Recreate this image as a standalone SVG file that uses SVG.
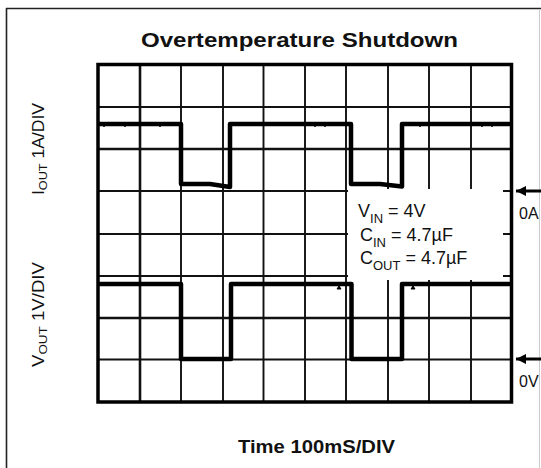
<svg xmlns="http://www.w3.org/2000/svg" width="541" height="468" viewBox="0 0 541 468">
<style>
.t{font-family:"Liberation Sans",Arial,sans-serif;fill:#111}
.g{stroke:#111;stroke-width:1.9;fill:none}
.gt{stroke:#111;stroke-width:2.6;fill:none}
.tr{stroke:#000;stroke-width:4.5;fill:none;stroke-linejoin:round}
</style>
<defs>
<marker id="ah" markerUnits="userSpaceOnUse" viewBox="0 0 10 10" refX="10" refY="5" markerWidth="11" markerHeight="10" orient="auto">
<path d="M0,0 L10,5 L0,10 z" fill="#000"/>
</marker>
</defs>
<rect width="541" height="468" fill="#fff"/>
<g id="frame">
<line x1="6.5" y1="8" x2="6.5" y2="468" stroke="#222" stroke-width="1.6"/>
<line x1="6" y1="8.5" x2="541" y2="8.5" stroke="#222" stroke-width="1.6"/>
<line x1="539.5" y1="9" x2="539.5" y2="468" stroke="#ccc" stroke-width="1"/>
</g>
<text id="title" class="t" x="141" y="47" font-size="21" font-weight="bold" textLength="317" lengthAdjust="spacingAndGlyphs">Overtemperature Shutdown</text>
<g id="grid">
<path class="g" d="M181,64.5V402 M223,64.5V402 M263.5,64.5V402 M305,64.5V402 M346,64.5V402 M388,64.5V402 M429,64.5V402 M471,64.5V402"/>
<path class="gt" d="M140,64.5V402"/>
<path class="g" d="M98,107H511.5 M98,191H511.5 M98,234H511.5 M98,276H511.5 M98,359.5H511.5"/>
<path class="gt" d="M98,149H511.5 M98,318H511.5"/>
<rect x="348" y="189" width="155" height="91" fill="#fff"/>
<path class="g" d="M503,191H511 M503,234H511 M503,276H511"/>
<rect x="98" y="64.5" width="413.5" height="337.5" fill="none" stroke="#000" stroke-width="3.5"/>
</g>
<g id="iout-trace">
<path class="tr" d="M99,124 H181 V184 H210 L230,187 V124 H351 V184 H380 L402,186.5 V124 H510"/>
<path d="M104,125v2 M125,125v2 M160,125v2 M315,125v2 M325,125v2 M420,125v2 M482,125v2 M492,125v2" stroke="#000" stroke-width="1.5"/>
</g>
<g id="vout-trace">
<path class="tr" d="M99,284 H181 V359 H231 V284 H351.5 V359 H402 V284 H510"/>
<path d="M339,286 l-2,3 h4 z M413,286 l-2,3 h4 z" fill="#000" stroke="#000" stroke-width="1"/>
</g>
<g id="labels">
<text class="t" x="358" y="217" font-size="18">V<tspan font-size="13" dy="6">IN</tspan><tspan dy="-6"> = 4V</tspan></text>
<text class="t" x="360" y="241" font-size="18">C<tspan font-size="13" dy="6">IN</tspan><tspan dy="-6"> = 4.7µF</tspan></text>
<text class="t" x="360" y="264" font-size="18">C<tspan font-size="13" dy="6">OUT</tspan><tspan dy="-6"> = 4.7µF</tspan></text>
<text class="t" transform="translate(44,195) rotate(-90)" font-size="16" textLength="92" lengthAdjust="spacingAndGlyphs">I<tspan font-size="11.5" dy="3">OUT</tspan><tspan dy="-3"> 1A/DIV</tspan></text>
<text class="t" transform="translate(44,367) rotate(-90)" font-size="16" textLength="105" lengthAdjust="spacingAndGlyphs">V<tspan font-size="11.5" dy="3">OUT</tspan><tspan dy="-3"> 1V/DIV</tspan></text>
<text class="t" x="238" y="453" font-size="18.5" font-weight="bold" textLength="157" lengthAdjust="spacingAndGlyphs">Time 100mS/DIV</text>
<text class="t" x="519" y="219" font-size="16">0A</text>
<text class="t" x="519" y="387" font-size="16">0V</text>
</g>
<g id="connectors">
<line x1="541" y1="191" x2="516" y2="191" stroke="#000" stroke-width="3" marker-end="url(#ah)"/>
<line x1="541" y1="359" x2="516" y2="359" stroke="#000" stroke-width="3" marker-end="url(#ah)"/>
</g>
</svg>
